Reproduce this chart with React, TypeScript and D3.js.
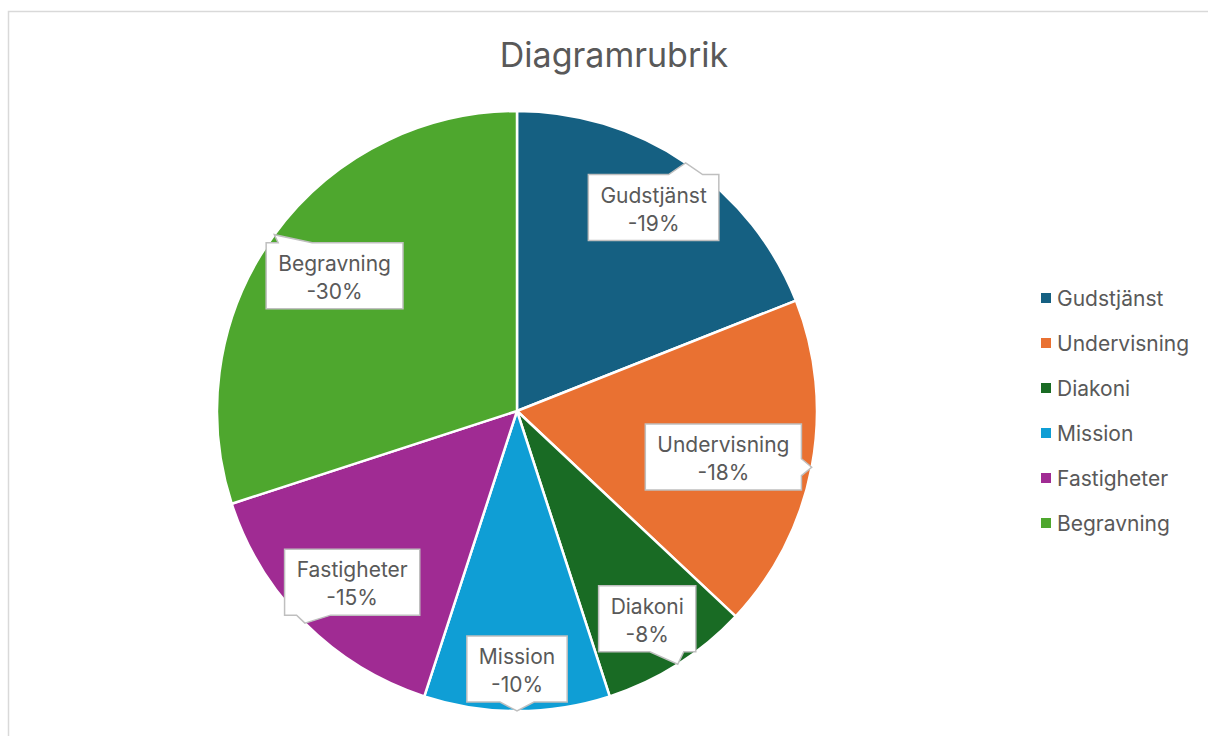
import React, { useEffect, useRef } from 'react';
import * as d3 from 'd3';

const title = 'Diagramrubrik';
const categories = ['Gudstjänst', 'Undervisning', 'Diakoni', 'Mission', 'Fastigheter', 'Begravning'];
const values = [-19, -18, -8, -10, -15, -30];
const colors = ['#156082', '#e97132', '#196b24', '#0f9ed5', '#a02b93', '#4ea72e'];

const FONT = 'Inter, "Open Sans", sans-serif';
const TEXT = '#595959';

export default function PieChart() {
  const svgRef = useRef<SVGSVGElement>(null);

  useEffect(() => {
    if (!svgRef.current) return;
    const width = 1208;
    const height = 736;
    const cx = 517;
    const cy = 411;
    const radius = 300;

    const svg = d3.select(svgRef.current);
    svg.selectAll('*').remove();

    // chart frame
    svg.append('rect')
      .attr('x', 8.5).attr('y', 11.5)
      .attr('width', width + 20).attr('height', height + 20)
      .attr('fill', '#fff')
      .attr('stroke', '#d9d9d9')
      .attr('stroke-width', 1.5);

    svg.append('text')
      .attr('x', 614).attr('y', 67)
      .attr('text-anchor', 'middle')
      .attr('font-family', FONT)
      .attr('font-size', 34)
      .attr('fill', TEXT)
      .text(title);

    const data = categories.map((name, i) => ({ name, value: values[i], color: colors[i] }));
    const pie = d3.pie<typeof data[0]>().sort(null).value(d => Math.abs(d.value));
    const arcs = pie(data);
    const arc = d3.arc<d3.PieArcDatum<typeof data[0]>>().innerRadius(0).outerRadius(radius);

    const g = svg.append('g').attr('transform', `translate(${cx},${cy})`);

    g.selectAll('path.slice')
      .data(arcs)
      .join('path')
      .attr('class', 'slice')
      .attr('d', arc)
      .attr('fill', d => d.data.color)
      .attr('stroke', '#fff')
      .attr('stroke-width', 2.5)
      .attr('stroke-linejoin', 'round');

    // data label callouts
    const padX = 12;
    const boxH = 66;
    const minTip = 8;
    const clamp = (v: number, lo: number, hi: number) => Math.max(lo, Math.min(hi, v));
    arcs.forEach(a => {
      const mid = (a.startAngle + a.endAngle) / 2;
      const tip = [radius * Math.sin(mid), -radius * Math.cos(mid)];
      let lx = radius * 0.81 * Math.sin(mid);
      let ly = radius * 0.82 * -Math.cos(mid) + (Math.abs(Math.sin(mid)) < 0.2 ? 12 : 0);

      const lg = g.append('g');
      const t = lg.append('text')
        .attr('text-anchor', 'middle')
        .attr('font-family', FONT)
        .attr('font-size', 21)
        .attr('fill', TEXT);
      t.append('tspan').attr('x', 0).attr('y', -5).text(a.data.name);
      t.append('tspan').attr('x', 0).attr('y', 23).text(`${a.data.value}%`);
      const tw = (t.node() as SVGTextElement).getBBox().width;
      const bw = tw + padX * 2;

      // keep the box inside the pie horizontally
      const maxX = Math.sqrt(radius * radius - ly * ly) - bw / 2 - 12;
      if (Math.abs(lx) > maxX) lx = Math.sign(lx) * maxX;

      // which side of the box the pointer leaves from
      const nx = (tip[0] - lx) / (bw / 2);
      const ny = (tip[1] - ly) / (boxH / 2);
      const vertical = Math.abs(ny) >= Math.abs(nx);
      if (vertical) {
        const gap = Math.abs(tip[1] - ly) - boxH / 2;
        if (gap < minTip) ly -= Math.sign(tip[1] - ly) * (minTip - gap);
      } else {
        const gap = Math.abs(tip[0] - lx) - bw / 2;
        if (gap < minTip) lx -= Math.sign(tip[0] - lx) * (minTip - gap);
      }

      const x0 = lx - bw / 2, x1 = lx + bw / 2;
      const y0 = ly - boxH / 2, y1 = ly + boxH / 2;
      const half = 17;

      const p = d3.path();
      if (vertical) {
        const bx = clamp(tip[0], x0 + 12 + half, x1 - 12 - half);
        if (tip[1] < ly) {
          p.moveTo(x0, y0); p.lineTo(bx - half, y0); p.lineTo(tip[0], tip[1]); p.lineTo(bx + half, y0);
          p.lineTo(x1, y0); p.lineTo(x1, y1); p.lineTo(x0, y1); p.closePath();
        } else {
          p.moveTo(x0, y0); p.lineTo(x1, y0); p.lineTo(x1, y1); p.lineTo(bx + half, y1);
          p.lineTo(tip[0], tip[1]); p.lineTo(bx - half, y1); p.lineTo(x0, y1); p.closePath();
        }
      } else {
        const by = clamp(tip[1], y0 + 10 + half / 2, y1 - 10 - half / 2);
        if (tip[0] > lx) {
          p.moveTo(x0, y0); p.lineTo(x1, y0); p.lineTo(x1, by - half / 2); p.lineTo(tip[0], tip[1]);
          p.lineTo(x1, by + half / 2); p.lineTo(x1, y1); p.lineTo(x0, y1); p.closePath();
        } else {
          p.moveTo(x0, y0); p.lineTo(x1, y0); p.lineTo(x1, y1); p.lineTo(x0, y1);
          p.lineTo(x0, by + half / 2); p.lineTo(tip[0], tip[1]); p.lineTo(x0, by - half / 2); p.closePath();
        }
      }
      lg.insert('path', 'text')
        .attr('d', p.toString())
        .attr('fill', '#fff')
        .attr('stroke', '#bfbfbf')
        .attr('stroke-width', 1.5);
      t.attr('transform', `translate(${lx},${ly})`);
    });

    // legend
    const legend = svg.append('g').attr('transform', 'translate(1041,298)');
    const rows = legend.selectAll('g')
      .data(data)
      .join('g')
      .attr('transform', (_, i) => `translate(0,${i * 45})`);
    rows.append('rect')
      .attr('x', 0).attr('y', -5)
      .attr('width', 10).attr('height', 10)
      .attr('fill', d => d.color);
    rows.append('text')
      .attr('x', 16).attr('y', 7.5)
      .attr('font-family', FONT)
      .attr('font-size', 21)
      .attr('fill', TEXT)
      .text(d => d.name);
  }, []);

  return (
    <svg
      ref={svgRef}
      width={1208}
      height={736}
      style={{ position: 'absolute', left: 0, top: 0, display: 'block' }}
    />
  );
}
